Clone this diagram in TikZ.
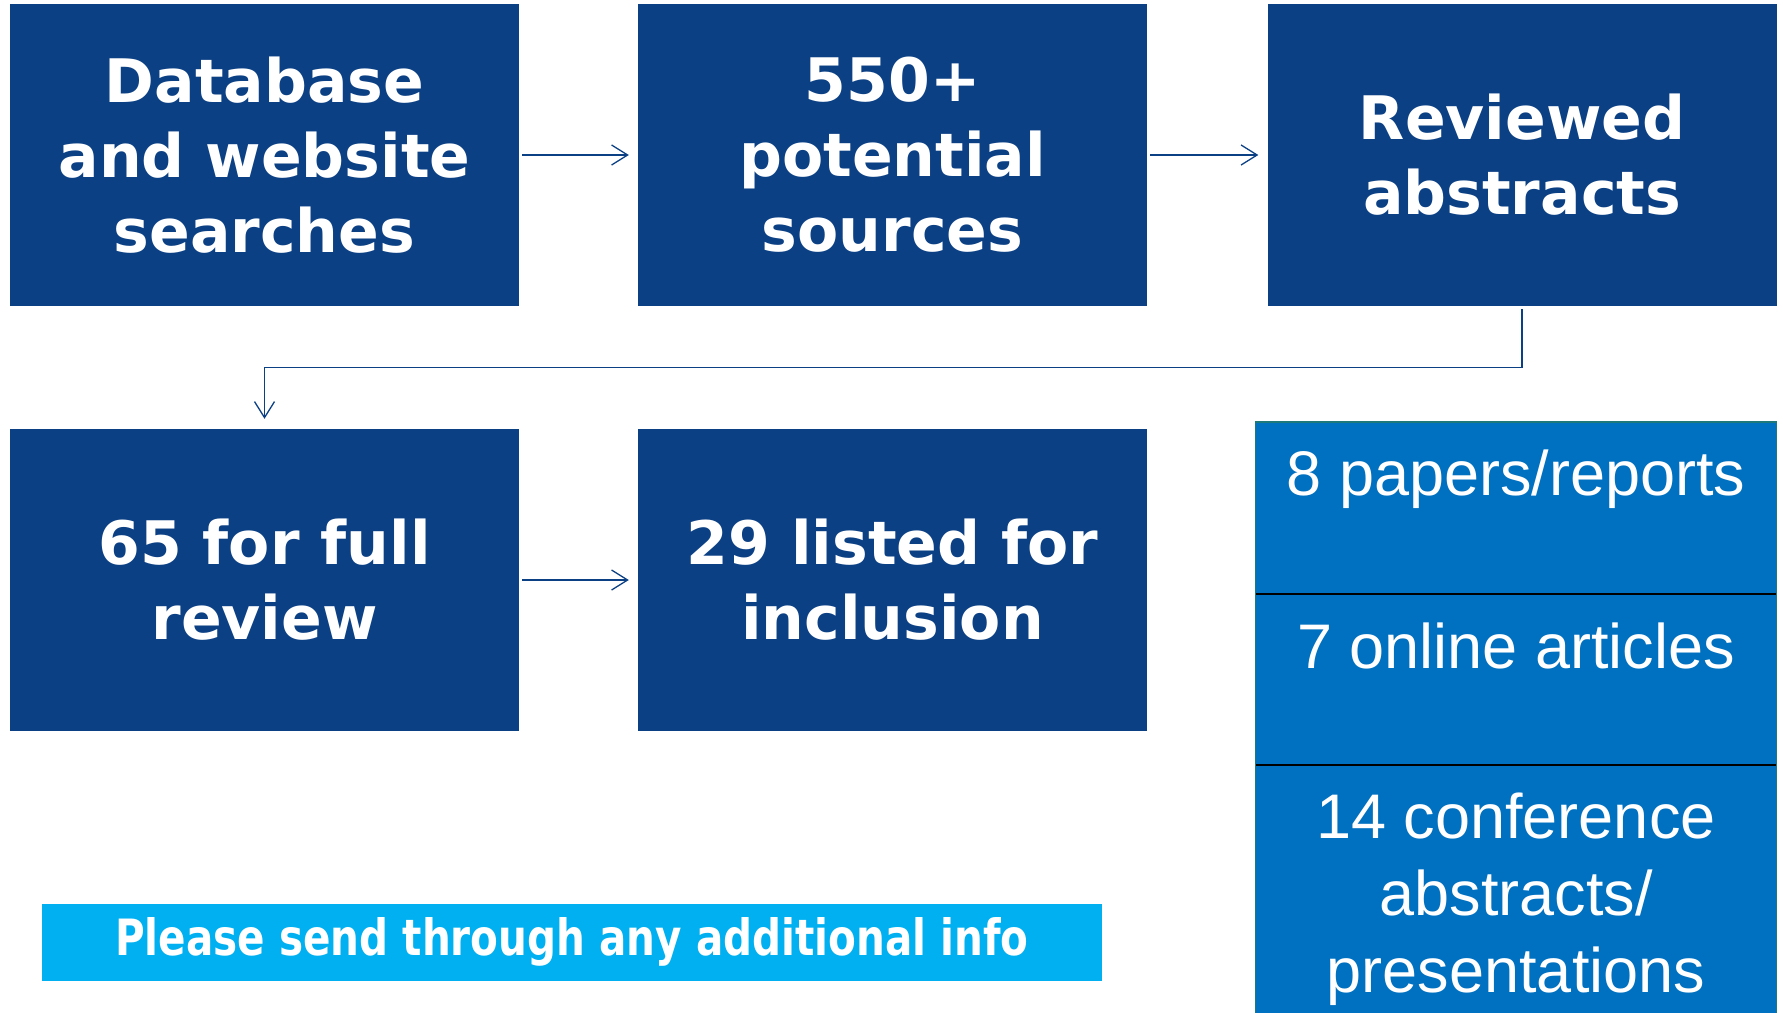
\documentclass[tikz,border=0pt]{standalone}
\usepackage{fontspec}
\usepackage{graphicx}
\setmainfont{Liberation Sans}
\newfontfamily\boxfont{DejaVu Sans}
\usepackage{tikz}
\usetikzlibrary{arrows.meta,positioning}

\definecolor{navy}{RGB}{12,64,132}
\definecolor{midblue}{RGB}{0,112,192}
\definecolor{skyblue}{RGB}{0,176,240}
\definecolor{edgeteal}{RGB}{30,122,122}

\begin{document}
\begin{tikzpicture}[x=1pt,y=-1pt,
  stage/.style={fill=navy, minimum width=509pt, minimum height=302pt, inner sep=0pt,
    text=white, align=center, font=\boxfont\bfseries\fontsize{60}{75}\selectfont},
  cell/.style={fill=midblue, minimum width=520pt, inner sep=0pt, anchor=north},
  celltext/.style={text=white, align=center, inner sep=0pt, font=\fontsize{63}{77}\selectfont},
  infobox/.style={fill=skyblue, minimum width=1060pt, minimum height=77pt, inner sep=0pt,
    text=white, font=\boxfont\bfseries\fontsize{50}{60}\selectfont},
  flow/.style={draw=navy, line width=1.3pt, -{Straight Barb[length=16pt,width=20pt]}}]
\useasboundingbox (0,0) rectangle (1783,1012);

% Stages
\node[stage] (search) at (264.5,155) {Database\\and website\\searches};
\node[stage] (sources) at (892.5,155) {550+\\potential\\sources};
\node[stage] (abstracts) at (1522,155) {Reviewed\\abstracts};
\node[stage] (fullrev) at (264.5,580) {65 for full\\review};
\node[stage] (listed) at (892.5,580) {29 listed for\\inclusion};

% Breakdown of the 29
\node[cell, minimum height=172pt] (papers) at (1516,422) {};
\node[cell, minimum height=170pt] (online) at (papers.south) {};
\node[cell, minimum height=248pt] (confs) at (online.south) {};
\node[celltext, below=28pt of papers.north] (paperstext) {8 papers/reports};
\node[celltext, below=28pt of online.north] (onlinetext) {7 online articles};
\node[celltext, below=28pt of confs.north] (confstext) {14 conference\\abstracts/\\presentations};
\draw[black, line width=2pt] (online.north west) -- (online.north east);
\draw[black, line width=2pt] (confs.north west) -- (confs.north east);
\draw[edgeteal, line width=1.2pt] (papers.north west) rectangle (confs.south east);

% Note
\node[infobox] (info) at (572,942) {\scalebox{0.81}[1]{Please send through any additional info}};

%Straight Lines
\draw[flow, shorten <=3pt, shorten >=9pt] (search) -- (sources);
\draw[flow, shorten <=3pt, shorten >=9pt] (sources) -- (abstracts);
\draw[flow, shorten <=3pt, shorten >=9pt] (fullrev) -- (listed);
\draw[flow, shorten <=3pt, shorten >=10pt] (abstracts.south) -- ++(0,61) -| (fullrev.north);

\end{tikzpicture}
\end{document}
